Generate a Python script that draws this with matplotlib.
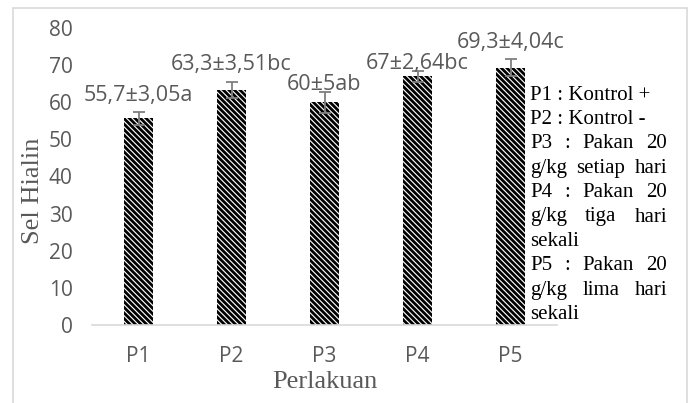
import matplotlib
matplotlib.use("Agg")
import matplotlib.pyplot as plt
from matplotlib.patches import Rectangle

# data
groups = ["P1", "P2", "P3", "P4", "P5"]
means = [55.7, 63.3, 60.0, 67.0, 69.3]
errors = [1.76, 2.03, 2.89, 1.52, 2.33]
labels = ["55,7±3,05a", "63,3±3,51bc", "60±5ab", "67±2,64bc", "69,3±4,04c"]
notes = [
    ("P1 : Kontrol +", False),
    ("P2 : Kontrol -", False),
    ("P3 : Pakan 20", True),
    ("g/kg setiap hari", True),
    ("P4 : Pakan 20", True),
    ("g/kg tiga hari", True),
    ("sekali", False),
    ("P5 : Pakan 20", True),
    ("g/kg lima hari", True),
    ("sekali", False),
]

W, H = 692, 403
plt.rcParams['hatch.linewidth'] = 2.0
fig = plt.figure(figsize=(W / 100, H / 100), dpi=100)
ax = fig.add_axes([92 / W, 1 - 325 / H, 465 / W, 297 / H])

x = range(len(groups))
ax.bar(x, means, width=0.31, color="white", edgecolor="black",
       linewidth=0, hatch="\\" * 6)
ax.errorbar(x, means, yerr=errors, fmt="none", ecolor="#7f7f7f",
            elinewidth=1.3, capsize=4.5, capthick=1.3)

# label offsets above bar top (px), moved by hand in the original
label_off = [23, 25, 18, 13, 25]
for i, (m, lab) in enumerate(zip(means, labels)):
    ax.annotate(lab, (i, m), xytext=(0, label_off[i] * 0.72),
                textcoords="offset points", ha="center", va="center",
                fontsize=15.5, color="#595959", family="Open Sans")

ax.set_xlim(-0.5, 4.5)
ax.set_ylim(0, 80)
ax.set_yticks(range(0, 81, 10))
ax.set_xticks(list(x))
ax.set_xticklabels(groups)
for s in ["top", "right", "left"]:
    ax.spines[s].set_visible(False)
ax.spines["bottom"].set_color("#d9d9d9")
ax.spines["bottom"].set_linewidth(1.2)
ax.tick_params(length=0, labelsize=15, labelcolor="#595959")
ax.tick_params(axis="x", pad=15)
ax.tick_params(axis="y", pad=14)
for t in ax.get_xticklabels() + ax.get_yticklabels():
    t.set_family("Open Sans")

fig.text(33 / W, 1 - 191 / H, "Sel Hialin", rotation=90, ha="center",
         va="center", fontsize=19, color="#595959", family="Liberation Serif")
fig.text(325 / W, 1 - 382 / H, "Perlakuan", ha="center", va="center",
         fontsize=19, color="#595959", family="Liberation Serif")

# chart border
fig.add_artist(Rectangle((13 / W, -0.05), 674 / W, 0.05 + 1 - 8 / H,
                         transform=fig.transFigure, fill=False,
                         edgecolor="#d9d9d9", linewidth=1.2))

# justified note text
renderer = fig.canvas.get_renderer()
left, right = 530, 667
for k, (line, justify) in enumerate(notes):
    yc = 1 - (95 + k * 24.4) / H
    if not justify:
        fig.text(left / W, yc, line, ha="left", va="center", fontsize=15,
                 family="Liberation Serif", color="black")
        continue
    words = line.split()
    arts = [fig.text(0, yc, w, ha="left", va="center", fontsize=15,
                     family="Liberation Serif", color="black") for w in words]
    widths = [a.get_window_extent(renderer).width for a in arts]
    gap = (right - left - sum(widths)) / (len(words) - 1)
    pos = left
    for a, wd in zip(arts, widths):
        a.set_x(pos / W)
        pos += wd + gap

fig.savefig("out.png", dpi=100)
